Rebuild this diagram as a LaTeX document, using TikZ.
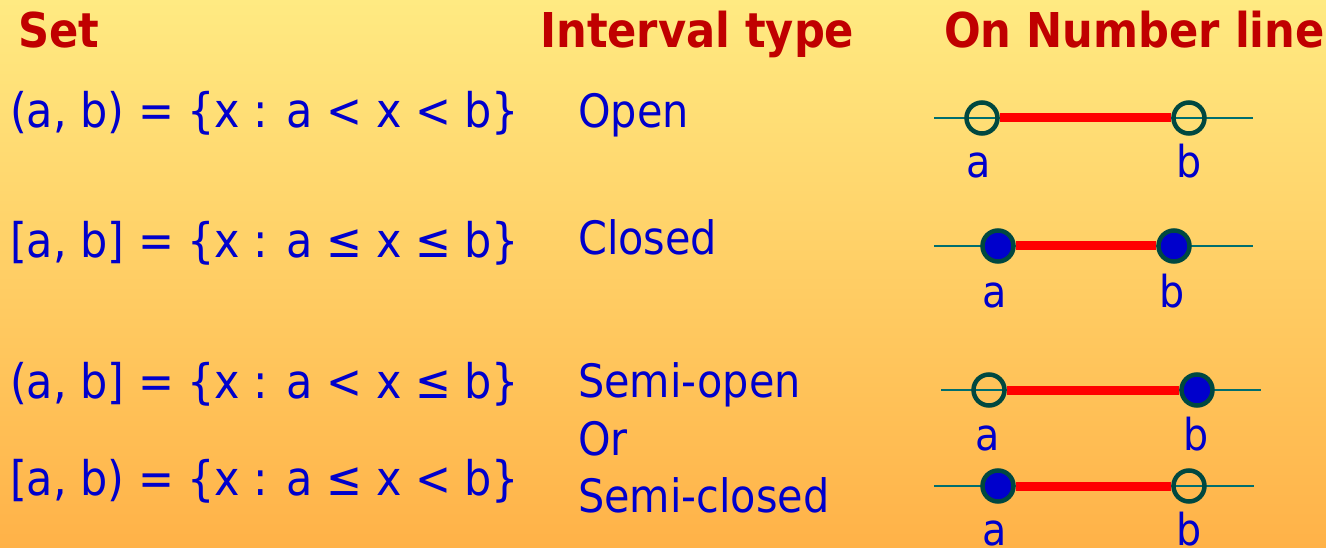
\documentclass[tikz,border=0pt]{standalone}
\usepackage{fontspec}
\setmainfont{DejaVu Sans Condensed}
\definecolor{txtblue}{RGB}{0,0,204}
\definecolor{ttlred}{RGB}{192,0,0}
\definecolor{bgtop}{RGB}{255,234,130}
\definecolor{bgbot}{RGB}{255,178,72}
\definecolor{ringcol}{RGB}{0,72,64}
\definecolor{axiscol}{RGB}{0,110,110}
\definecolor{segred}{RGB}{255,0,0}
\tikzset{
  ttl/.style={anchor=base west,inner sep=0pt,text=ttlred,font=\fontsize{48}{54}\selectfont\bfseries},
  body/.style={anchor=base west,inner sep=0pt,text=txtblue,font=\fontsize{46}{54}\selectfont},
  formula/.style={body,font=\fontsize{47.7}{54}\selectfont},
  lbl/.style={anchor=base,inner sep=0pt,text=txtblue,font=\fontsize{44}{50}\selectfont},
  opendot/.style={circle,draw=ringcol,line width=4.5pt,minimum size=31pt,inner sep=0pt},
  filldot/.style={opendot,fill=txtblue},
  axis/.style={draw=axiscol,line width=1.8pt},
  seg/.style={draw=segred,line width=9pt},
}
\begin{document}
\begin{tikzpicture}[x=1pt,y=-1pt]
\shade[top color=bgtop,bottom color=bgbot] (0,0) rectangle (1326,548);
\useasboundingbox (0,0) rectangle (1326,548);
% titles
\node[ttl] (tset) at (18,48) {Set};
\node[ttl] (ttype) at (540,48) {Interval type};
\node[ttl] (tline) at (944,48) {On Number line};
% formulas
\node[formula] (f1) at (10,128) {(a, b) = \{x : a < x < b\}};
\node[formula] (f2) at (10,258) {[a, b] = \{x : a ≤ x ≤ b\}};
\node[formula] (f3) at (10,398) {(a, b] = \{x : a < x ≤ b\}};
\node[formula] (f4) at (10,495) {[a, b) = \{x : a ≤ x < b\}};
% types
\node[body] (k1) at (578,128) {Open};
\node[body] (k2) at (578,255) {Closed};
\node[body] (k3) at (578,397) {Semi-open};
\node[body] (k4) at (578,455) {Or};
\node[body] (k5) at (578,512) {Semi-closed};
% row 1
\coordinate (l1) at (934,118); \coordinate (r1) at (1253,118);
\draw[axis] (l1) -- (r1);
\node[opendot] (a1) at (982,118) {};
\node[opendot] (b1) at (1189,118) {};
\draw[seg] (a1) -- (b1);
\node[lbl] (la1) at (979,178) {a};
\node[lbl] (lb1) at (1189,178) {b};
% row 2
\coordinate (l2) at (934,246); \coordinate (r2) at (1253,246);
\draw[axis] (l2) -- (r2);
\node[filldot] (a2) at (998,246) {};
\node[filldot] (b2) at (1174,246) {};
\draw[seg] (a2) -- (b2);
\node[lbl] (la2) at (995,307) {a};
\node[lbl] (lb2) at (1172,307) {b};
% row 3
\coordinate (l3) at (941,390); \coordinate (r3) at (1261,390);
\draw[axis] (l3) -- (r3);
\node[opendot] (a3) at (989,390) {};
\node[filldot] (b3) at (1197,390) {};
\draw[seg] (a3) -- (b3);
\node[lbl] (la3) at (988,450) {a};
\node[lbl] (lb3) at (1196,450) {b};
% row 4
\coordinate (l4) at (934,486); \coordinate (r4) at (1254,486);
\draw[axis] (l4) -- (r4);
\node[filldot] (a4) at (998,486) {};
\node[opendot] (b4) at (1189,486) {};
\draw[seg] (a4) -- (b4);
\node[lbl] (la4) at (995,545) {a};
\node[lbl] (lb4) at (1189,545) {b};
\end{tikzpicture}
\end{document}
